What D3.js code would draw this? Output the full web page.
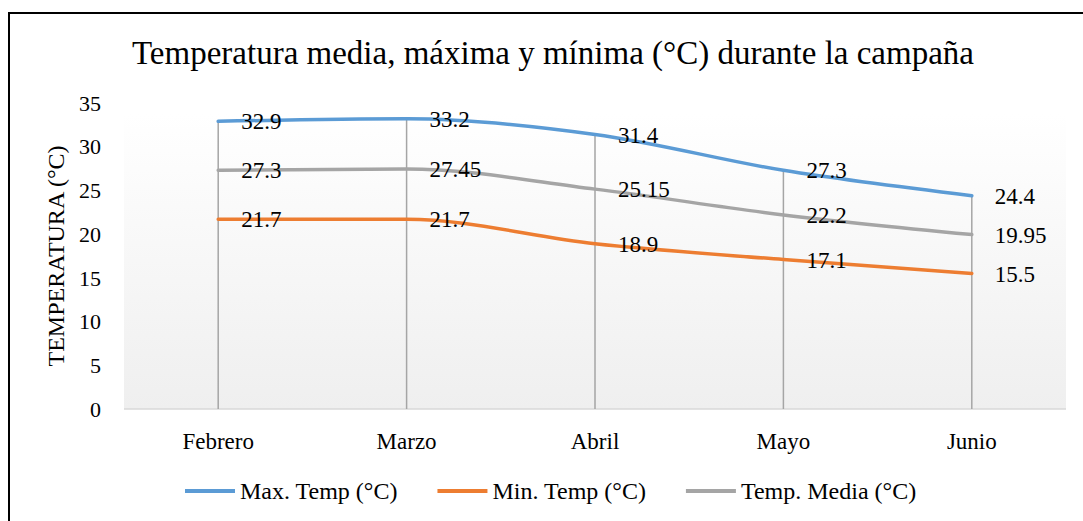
<!DOCTYPE html>
<html>
<head>
<meta charset="utf-8">
<script src="https://d3js.org/d3.v7.min.js"></script>
<style>
  body { margin: 0; background: #fff; }
</style>
</head>
<body>
<script>
// chart values
let months = ["Febrero", "Marzo", "Abril", "Mayo", "Junio"];
let maxTemp = [32.9, 33.2, 31.4, 27.3, 24.4];
let minTemp = [21.7, 21.7, 18.9, 17.1, 15.5];
let mediaTemp = [27.3, 27.45, 25.15, 22.2, 19.95];
let yTicks = [0, 5, 10, 15, 20, 25, 30, 35];
let seriesNames = ["Max. Temp (°C)", "Min. Temp (°C)", "Temp. Media (°C)"];
let seriesColors = ["#5b9bd5", "#ed7d31", "#a5a5a5"];

let width = 1083, height = 521;
let plot = {left: 124, right: 1066, top: 103, bottom: 409};
let serif = "'Liberation Serif', 'Times New Roman', serif";

let svg = d3.select("body").append("svg")
    .attr("width", width)
    .attr("height", height)
    .attr("font-family", serif);

// outer chart border (right and bottom edges fall outside the picture)
svg.append("rect")
    .attr("x", 9).attr("y", 13)
    .attr("width", 1100).attr("height", 540)
    .attr("fill", "#fff")
    .attr("stroke", "#000")
    .attr("stroke-width", 2);

// plot area gradient
let grad = svg.append("defs").append("linearGradient")
    .attr("id", "bg").attr("x1", 0).attr("y1", 0).attr("x2", 0).attr("y2", 1);
grad.append("stop").attr("offset", "0%").attr("stop-color", "#ffffff");
grad.append("stop").attr("offset", "100%").attr("stop-color", "#efefef");

let x = d3.scaleBand()
    .domain(months)
    .range([plot.left, plot.right]);
let y = d3.scaleLinear()
    .domain([0, 35])
    .range([plot.bottom, plot.top]);
let cx = d => x(d) + x.bandwidth() / 2;

svg.append("rect")
    .attr("x", plot.left).attr("y", y(35) + 10)
    .attr("width", plot.right - plot.left)
    .attr("height", plot.bottom - y(35) - 10)
    .attr("fill", "url(#bg)");

function label(sel, size) {
    return sel.attr("font-family", serif)
        .attr("font-size", size)
        .attr("fill", "#000");
}

// title
label(svg.append("text"), 33)
    .attr("x", 553).attr("y", 64)
    .attr("text-anchor", "middle")
    .text("Temperatura media, máxima y mínima (°C) durante la campaña");

// y tick labels
label(svg.selectAll(".ytick")
    .data(yTicks)
    .join("text")
    .attr("class", "ytick"), 22)
    .attr("x", 101)
    .attr("y", d => y(d))
    .attr("dy", "0.35em")
    .attr("text-anchor", "end")
    .text(d => d);

// y axis title
label(svg.append("text"), 24)
    .attr("transform", "translate(64,256) rotate(-90)")
    .attr("text-anchor", "middle")
    .text("TEMPERATURA (°C)");

// x axis line
svg.append("line")
    .attr("x1", plot.left).attr("x2", plot.right)
    .attr("y1", y(0)).attr("y2", y(0))
    .attr("stroke", "#d9d9d9")
    .attr("stroke-width", 1.5);

// x labels
label(svg.selectAll(".xlab")
    .data(months)
    .join("text")
    .attr("class", "xlab"), 23)
    .attr("x", d => cx(d))
    .attr("y", 441)
    .attr("dy", "0.35em")
    .attr("text-anchor", "middle")
    .text(d => d);

// drop lines
let tops = months.map((m, i) => Math.max(maxTemp[i], minTemp[i], mediaTemp[i]));
svg.selectAll(".drop")
    .data(months)
    .join("line")
    .attr("class", "drop")
    .attr("x1", d => cx(d)).attr("x2", d => cx(d))
    .attr("y1", (d, i) => y(tops[i]))
    .attr("y2", y(0))
    .attr("stroke", "#a5a5a5")
    .attr("stroke-width", 1.5);

// series lines
let series = [maxTemp, minTemp, mediaTemp];
let line = d3.line()
    .x((d, i) => cx(months[i]))
    .y(d => y(d))
    .curve(d3.curveMonotoneX);

series.forEach((vals, s) => {
    svg.append("path")
        .attr("d", line(vals))
        .attr("fill", "none")
        .attr("stroke", seriesColors[s])
        .attr("stroke-width", 3.5)
        .attr("stroke-linecap", "round");
});

// data labels
series.forEach(vals => {
    label(svg.selectAll(null)
        .data(vals)
        .join("text"), 23)
        .attr("x", (d, i) => cx(months[i]) + 23)
        .attr("y", d => y(d))
        .attr("dy", "0.35em")
        .text(d => d);
});

// legend
let legX = 185, legY = 491;
seriesNames.forEach((name, i) => {
    svg.append("line")
        .attr("x1", legX).attr("x2", legX + 50)
        .attr("y1", legY).attr("y2", legY)
        .attr("stroke", seriesColors[i])
        .attr("stroke-width", 4);
    let t = label(svg.append("text"), 24)
        .attr("x", legX + 55)
        .attr("y", legY)
        .attr("dy", "0.35em")
        .text(name);
    legX += 55 + t.node().getComputedTextLength() + 40;
});
</script>
</body>
</html>
